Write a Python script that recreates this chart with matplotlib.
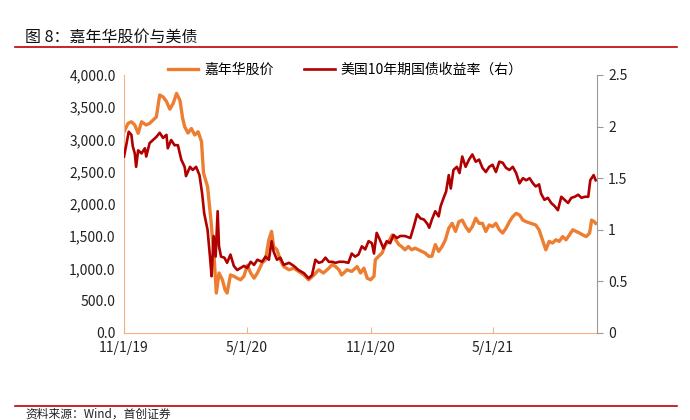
import matplotlib
matplotlib.use('Agg')
import matplotlib.pyplot as plt
import pandas as pd
from matplotlib.lines import Line2D

plt.rcParams['font.family'] = ['Noto Sans CJK SC', 'DejaVu Sans']

# 嘉年华股价 (left axis)
price_dates = [
    '2019-11-01', '2019-11-07', '2019-11-12', '2019-11-17', '2019-11-22', '2019-11-27',
    '2019-12-04', '2019-12-09', '2019-12-14', '2019-12-19', '2019-12-24', '2019-12-29',
    '2020-01-03', '2020-01-08', '2020-01-13', '2020-01-18', '2020-01-23', '2020-01-27',
    '2020-01-30', '2020-02-04', '2020-02-09', '2020-02-14', '2020-02-19', '2020-02-24',
    '2020-02-27', '2020-03-04', '2020-03-09', '2020-03-14', '2020-03-17', '2020-03-21',
    '2020-03-26', '2020-03-30', '2020-04-02', '2020-04-07', '2020-04-12', '2020-04-17',
    '2020-04-22', '2020-04-27', '2020-05-02', '2020-05-07', '2020-05-12', '2020-05-17',
    '2020-05-24', '2020-05-29', '2020-06-03', '2020-06-07', '2020-06-10', '2020-06-15',
    '2020-06-20', '2020-06-25', '2020-07-03', '2020-07-10', '2020-07-17', '2020-07-25',
    '2020-08-01', '2020-08-09', '2020-08-16', '2020-08-23', '2020-08-31', '2020-09-05',
    '2020-09-10', '2020-09-15', '2020-09-19', '2020-09-27', '2020-10-04', '2020-10-12',
    '2020-10-17', '2020-10-22', '2020-10-27', '2020-11-01', '2020-11-06', '2020-11-08',
    '2020-11-13', '2020-11-18', '2020-11-23', '2020-11-28', '2020-12-03', '2020-12-08',
    '2020-12-13', '2020-12-17', '2020-12-22', '2020-12-27', '2021-01-01', '2021-01-06',
    '2021-01-11', '2021-01-16', '2021-01-21', '2021-01-26', '2021-01-31', '2021-02-05',
    '2021-02-10', '2021-02-15', '2021-02-20', '2021-02-25', '2021-03-02', '2021-03-07',
    '2021-03-12', '2021-03-17', '2021-03-22', '2021-03-27', '2021-04-01', '2021-04-06',
    '2021-04-11', '2021-04-16', '2021-04-21', '2021-04-26', '2021-05-01', '2021-05-06',
    '2021-05-11', '2021-05-16', '2021-05-21', '2021-05-26', '2021-05-31', '2021-06-05',
    '2021-06-10', '2021-06-15', '2021-06-20', '2021-06-27', '2021-07-04', '2021-07-09',
    '2021-07-14', '2021-07-19', '2021-07-24', '2021-07-29', '2021-08-03', '2021-08-08',
    '2021-08-13', '2021-08-18', '2021-08-23', '2021-08-28', '2021-09-02', '2021-09-07',
    '2021-09-12', '2021-09-17', '2021-09-22', '2021-09-25', '2021-09-29', '2021-10-01',
]
price_values = [
    3120, 3250, 3275, 3225, 3095, 3275,
    3225, 3250, 3300, 3350, 3690, 3660,
    3590, 3470, 3560, 3715, 3610, 3330,
    3200, 3100, 3170, 3070, 3120, 2970,
    2480, 2270, 1750, 1135, 620, 930,
    825, 670, 620, 900, 880, 850,
    825, 880, 1050, 930, 850, 930,
    1085, 1135, 1445, 1575, 1340, 1290,
    1135, 1030, 980, 1005, 955, 900,
    825, 900, 980, 930, 1005, 1060,
    1030, 980, 900, 980, 955, 1030,
    930, 1005, 850, 825, 880, 1135,
    1190, 1240, 1370, 1420, 1520, 1445,
    1370, 1340, 1290, 1340, 1290, 1315,
    1290, 1265, 1240, 1190, 1190, 1370,
    1265, 1340, 1445, 1625, 1700, 1575,
    1725, 1750, 1650, 1575, 1650, 1780,
    1700, 1700, 1575, 1675, 1650, 1700,
    1600, 1550, 1625, 1725, 1805, 1855,
    1830, 1750, 1725, 1700, 1675, 1600,
    1445, 1290, 1420, 1395, 1445, 1420,
    1495, 1445, 1520, 1600, 1575, 1550,
    1520, 1495, 1550, 1750, 1725, 1700,
]

# 美国10年期国债收益率 (right axis, %)
yield_dates = [
    '2019-11-01', '2019-11-04', '2019-11-08', '2019-11-12', '2019-11-14', '2019-11-17',
    '2019-11-19', '2019-11-22', '2019-11-27', '2019-12-02', '2019-12-04', '2019-12-09',
    '2019-12-14', '2019-12-19', '2019-12-24', '2019-12-29', '2020-01-03', '2020-01-05',
    '2020-01-10', '2020-01-15', '2020-01-20', '2020-01-25', '2020-01-30', '2020-02-01',
    '2020-02-07', '2020-02-11', '2020-02-16', '2020-02-21', '2020-02-25', '2020-02-28',
    '2020-03-04', '2020-03-08', '2020-03-10', '2020-03-13', '2020-03-16', '2020-03-19',
    '2020-03-21', '2020-03-24', '2020-03-29', '2020-04-02', '2020-04-07', '2020-04-12',
    '2020-04-17', '2020-04-22', '2020-04-27', '2020-05-02', '2020-05-07', '2020-05-12',
    '2020-05-17', '2020-05-24', '2020-05-29', '2020-06-03', '2020-06-07', '2020-06-10',
    '2020-06-15', '2020-06-20', '2020-06-25', '2020-07-03', '2020-07-10', '2020-07-17',
    '2020-07-25', '2020-08-01', '2020-08-06', '2020-08-11', '2020-08-16', '2020-08-21',
    '2020-08-26', '2020-08-31', '2020-09-05', '2020-09-10', '2020-09-15', '2020-09-22',
    '2020-09-29', '2020-10-04', '2020-10-09', '2020-10-14', '2020-10-19', '2020-10-24',
    '2020-10-29', '2020-11-03', '2020-11-06', '2020-11-10', '2020-11-15', '2020-11-20',
    '2020-11-25', '2020-11-30', '2020-12-05', '2020-12-10', '2020-12-15', '2020-12-22',
    '2020-12-30', '2021-01-04', '2021-01-09', '2021-01-14', '2021-01-19', '2021-01-24',
    '2021-01-27', '2021-01-31', '2021-02-05', '2021-02-10', '2021-02-13', '2021-02-18',
    '2021-02-21', '2021-02-25', '2021-02-28', '2021-03-04', '2021-03-09', '2021-03-13',
    '2021-03-17', '2021-03-22', '2021-03-27', '2021-04-01', '2021-04-06', '2021-04-11',
    '2021-04-16', '2021-04-21', '2021-04-26', '2021-05-01', '2021-05-06', '2021-05-11',
    '2021-05-16', '2021-05-21', '2021-05-26', '2021-05-31', '2021-06-05', '2021-06-10',
    '2021-06-15', '2021-06-20', '2021-06-25', '2021-06-30', '2021-07-04', '2021-07-09',
    '2021-07-12', '2021-07-17', '2021-07-22', '2021-07-27', '2021-08-01', '2021-08-06',
    '2021-08-11', '2021-08-16', '2021-08-21', '2021-08-26', '2021-08-31', '2021-09-05',
    '2021-09-10', '2021-09-15', '2021-09-20', '2021-09-23', '2021-09-28', '2021-10-01',
]
yield_values = [
    1.71, 1.81, 1.95, 1.92, 1.81, 1.74,
    1.61, 1.77, 1.74, 1.79, 1.71, 1.84,
    1.87, 1.90, 1.94, 1.89, 1.92, 1.79,
    1.87, 1.82, 1.82, 1.68, 1.61, 1.52,
    1.61, 1.58, 1.61, 1.53, 1.35, 1.16,
    1.00, 0.71, 0.55, 0.94, 0.74, 1.18,
    0.84, 0.74, 0.73, 0.68, 0.76, 0.65,
    0.61, 0.63, 0.65, 0.63, 0.69, 0.66,
    0.71, 0.69, 0.74, 0.71, 0.89, 0.79,
    0.71, 0.73, 0.66, 0.68, 0.65, 0.61,
    0.58, 0.53, 0.56, 0.71, 0.68, 0.69,
    0.73, 0.69, 0.69, 0.68, 0.69, 0.69,
    0.68, 0.77, 0.74, 0.76, 0.84, 0.81,
    0.89, 0.87, 0.77, 0.97, 0.90, 0.82,
    0.89, 0.87, 0.95, 0.92, 0.94, 0.94,
    0.92, 1.03, 1.15, 1.11, 1.10, 1.06,
    1.02, 1.10, 1.18, 1.13, 1.23, 1.32,
    1.37, 1.53, 1.40, 1.58, 1.61, 1.55,
    1.71, 1.61, 1.68, 1.73, 1.66, 1.68,
    1.60, 1.56, 1.61, 1.63, 1.56, 1.66,
    1.65, 1.60, 1.58, 1.61, 1.55, 1.45,
    1.50, 1.48, 1.50, 1.45, 1.42, 1.44,
    1.35, 1.29, 1.31, 1.26, 1.23, 1.19,
    1.32, 1.29, 1.26, 1.31, 1.32, 1.34,
    1.31, 1.32, 1.32, 1.48, 1.53, 1.48,
]

tick_dates = ['2019-11-01', '2020-05-01', '2020-11-01', '2021-05-01']
tick_labels = ['11/1/19', '5/1/20', '11/1/20', '5/1/21']
left_ticks = [0, 500, 1000, 1500, 2000, 2500, 3000, 3500, 4000]
right_ticks = [0, 0.5, 1, 1.5, 2, 2.5]
right_labels = ['0', '0.5', '1', '1.5', '2', '2.5']

orange = '#ED7D31'
darkred = '#B00000'
spine_orange = '#F4B183'

fig = plt.figure(figsize=(6.9, 4.2), dpi=100)
ax = fig.add_axes([124 / 690, 1 - 333 / 420, (597 - 124) / 690, (333 - 75) / 420])
ax2 = ax.twinx()

ax.plot(pd.to_datetime(price_dates), price_values, color=orange, lw=2.4,
        solid_joinstyle='round')
ax2.plot(pd.to_datetime(yield_dates), yield_values, color=darkred, lw=1.9,
         solid_joinstyle='round')

ax.set_xlim(pd.Timestamp('2019-11-01'), pd.Timestamp('2021-10-03'))
ax.set_ylim(0, 4000)
ax2.set_ylim(0, 2.5)

ax.set_xticks(pd.to_datetime(tick_dates))
ax.set_xticklabels(tick_labels, fontsize=10, color='#222222')
ax.set_yticks(left_ticks)
ax.set_yticklabels([f'{v:,.1f}' for v in left_ticks], fontsize=10, color='#222222')
ax2.set_yticks(right_ticks)
ax2.set_yticklabels(right_labels, fontsize=10, color='#222222')

ax.tick_params(axis='x', direction='in', length=4, color=spine_orange, pad=6)
ax.tick_params(axis='y', length=0, pad=6)
ax2.tick_params(axis='y', direction='out', length=4, color='#999999', pad=4)

for a in (ax, ax2):
    a.spines['top'].set_visible(False)
ax.spines['left'].set_color(spine_orange)
ax.spines['bottom'].set_color(spine_orange)
ax.spines['right'].set_visible(False)
ax2.spines['left'].set_visible(False)
ax2.spines['bottom'].set_visible(False)
ax2.spines['right'].set_color('#999999')

handles = [Line2D([], [], color=orange, lw=2.4), Line2D([], [], color=darkred, lw=1.9)]
fig.legend(handles, ['嘉年华股价', '美国10年期国债收益率（右）'], loc='center',
           bbox_to_anchor=(345 / 690, 1 - 70 / 420), ncol=2, frameon=False,
           fontsize=10, handlelength=2.2, columnspacing=2.2, handletextpad=0.4)

# header / footer
fig.text(25 / 690, 1 - 37 / 420, '图 8：嘉年华股价与美债', fontsize=11.5,
         ha='left', va='center', color='#111111')
fig.add_artist(Line2D([15 / 690, 677 / 690], [1 - 47 / 420] * 2, color='#C00000', lw=1.2))
fig.add_artist(Line2D([15 / 690, 677 / 690], [1 - 406 / 420] * 2, color='#C00000', lw=1.2))
fig.text(25 / 690, 1 - 408 / 420, '资料来源：Wind，首创证券', fontsize=8.5,
         ha='left', va='top', style='italic', color='#222222')

fig.savefig('out.png', dpi=100, facecolor='white')
